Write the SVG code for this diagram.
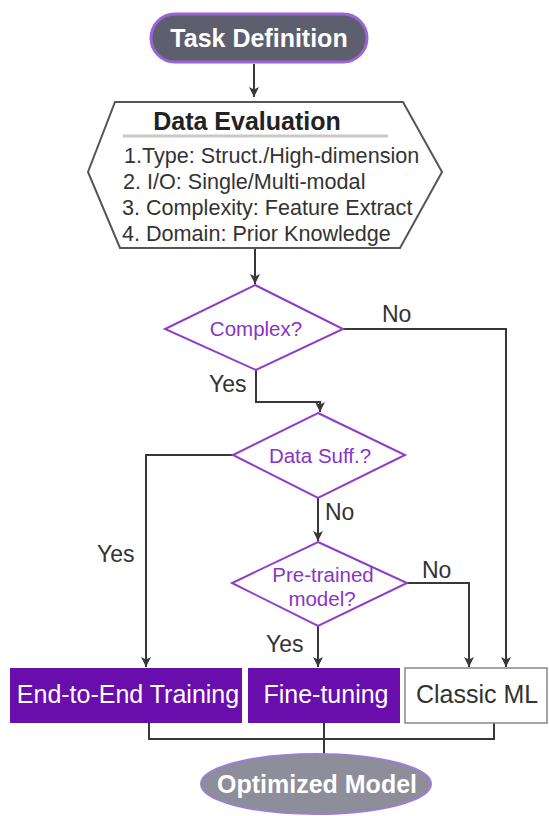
<svg xmlns="http://www.w3.org/2000/svg" width="549" height="816" viewBox="0 0 549 816">
<defs>
<style>
.t{font-family:"Liberation Sans",Arial,sans-serif}
.conn{fill:none;stroke:#383838;stroke-width:2}
.dia{fill:#fff;stroke:#8e3ccb;stroke-width:2}
.dt{font-size:20.5px;fill:#8a33c8;text-anchor:middle}
.lbl{font-size:23px;fill:#333}
.box{fill:#6a0dad}
.bt{font-size:25px;fill:#fff;text-anchor:middle}
</style>
<marker id="ah" viewBox="0 0 10 10" refX="10" refY="5" markerWidth="10" markerHeight="10" markerUnits="userSpaceOnUse" orient="auto">
<path d="M0,0 L10,5 L0,10 L2.5,5 z" fill="#383838"/>
</marker>
</defs>
<g id="connectors">
<path class="conn" d="M254,64 V97" marker-end="url(#ah)"/>
<path class="conn" d="M255,248 V284" marker-end="url(#ah)"/>
<path class="conn" d="M343,329 H506 V667" marker-end="url(#ah)"/>
<path class="conn" d="M256,370 V402 H320 V412" marker-end="url(#ah)"/>
<path class="conn" d="M233,455 H146 V667" marker-end="url(#ah)"/>
<path class="conn" d="M318,498 V541" marker-end="url(#ah)"/>
<path class="conn" d="M407,583 H469 V667" marker-end="url(#ah)"/>
<path class="conn" d="M318,626 V667" marker-end="url(#ah)"/>
<path class="conn" d="M149,723 V739 H494 V723 M324,723 V754"/>
<text class="t lbl" x="382" y="322">No</text>
<text class="t lbl" x="209" y="392">Yes</text>
<text class="t lbl" x="97" y="562">Yes</text>
<text class="t lbl" x="325" y="520">No</text>
<text class="t lbl" x="422" y="578">No</text>
<text class="t lbl" x="266" y="652">Yes</text>
</g>
<g id="task-definition">
<rect x="151" y="14" width="216" height="48" rx="24" fill="#5d5e6e" stroke="#9b63d4" stroke-width="3"/>
<text class="t" x="259" y="47" font-size="25" font-weight="bold" fill="#fff" text-anchor="middle">Task Definition</text>
</g>
<g id="data-evaluation">
<polygon points="115,102 403,102 442,172 400,248 120,248 88,172" fill="#fff" stroke="#555" stroke-width="2"/>
<text class="t" x="247" y="130" font-size="25" font-weight="bold" fill="#222" text-anchor="middle">Data Evaluation</text>
<line x1="123" y1="136" x2="388" y2="136" stroke="#c8c8c8" stroke-width="3"/>
<text class="t" font-size="21.6" fill="#333"><tspan x="124" y="163">1.Type: Struct./High-dimension</tspan><tspan x="123" y="189">2. I/O: Single/Multi-modal</tspan><tspan x="122" y="215">3. Complexity: Feature Extract</tspan><tspan x="122" y="241">4. Domain: Prior Knowledge</tspan></text>
</g>
<g id="complex">
<polygon class="dia" points="255,285 343,329 256,370 165,329"/>
<text class="t dt" x="256" y="336">Complex?</text>
</g>
<g id="data-suff">
<polygon class="dia" points="318,413 405,455 318,498 233,455"/>
<text class="t dt" x="320" y="463">Data Suff.?</text>
</g>
<g id="pre-trained">
<polygon class="dia" points="318,542 407,583 318,626 232,583"/>
<text class="t dt" x="323" y="582">Pre-trained</text>
<text class="t dt" x="322" y="606">model?</text>
</g>
<g id="end-to-end">
<rect class="box" x="10" y="668" width="232" height="55"/>
<text class="t bt" x="128" y="703">End-to-End Training</text>
</g>
<g id="fine-tuning">
<rect class="box" x="248" y="668" width="152" height="55"/>
<text class="t bt" x="326" y="703">Fine-tuning</text>
</g>
<g id="classic-ml">
<rect x="405" y="668" width="142" height="55" fill="#fff" stroke="#888" stroke-width="1.5"/>
<text class="t bt" x="477" y="703" style="fill:#333">Classic ML</text>
</g>
<g id="optimized-model">
<ellipse cx="316" cy="784" rx="115" ry="30" fill="#8d8e99" stroke="#9b7fd6" stroke-width="2"/>
<text class="t" x="317" y="793" font-size="25" font-weight="bold" fill="#fff" text-anchor="middle">Optimized Model</text>
</g>
</svg>
